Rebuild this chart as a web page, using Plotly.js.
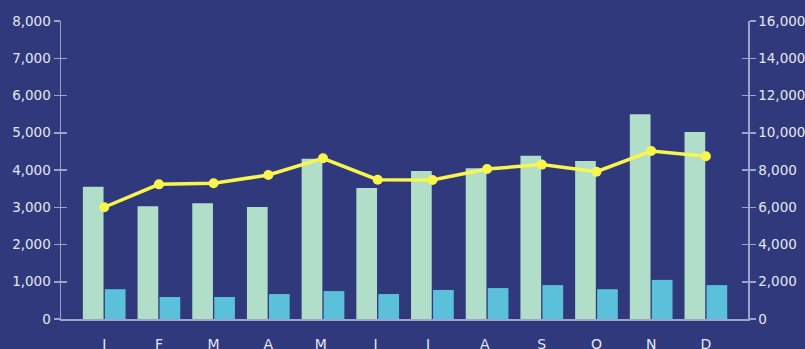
<!DOCTYPE html>
<html>
<head>
<meta charset="utf-8">
<script src="https://cdn.plot.ly/plotly-3.0.1.min.js"></script>
<style>
html,body{margin:0;padding:0;background:#2f397c;}
#chart{width:805px;height:349px;}
</style>
</head>
<body>
<div id="chart"></div>
<script>
const months = ["J","F","M","A","M ","J ","J  ","A ","S","O","N","D"];
const seriesA = [3550, 3030, 3110, 3010, 4300, 3520, 3970, 4050, 4380, 4240, 5500, 5020];
const seriesB = [800, 590, 590, 670, 750, 670, 780, 830, 910, 800, 1050, 910];
const lineC = [6000, 7230, 7290, 7730, 8630, 7480, 7460, 8050, 8290, 7910, 9020, 8740];
const leftTicks = [0,1000,2000,3000,4000,5000,6000,7000,8000];
const rightTicks = [0,2000,4000,6000,8000,10000,12000,14000,16000];

const bg = "#2f397c";
const axisCol = "#9ea3cc";
const textCol = "#e6e7f2";
const fnt = {family: "DejaVu Sans, sans-serif", size: 13.5, color: textCol};

const traces = [
  {type: "bar", x: months, y: seriesA, marker: {color: "#b1dec8"}, hoverinfo: "skip", showlegend: false},
  {type: "bar", x: months, y: seriesB, marker: {color: "#5bc0da"}, hoverinfo: "skip", showlegend: false},
  {type: "scatter", mode: "lines+markers", x: months, y: lineC, yaxis: "y2",
   line: {color: "#f8f64c", width: 3.5}, marker: {color: "#f8f64c", size: 10},
   hoverinfo: "skip", showlegend: false},
  {type: "scatter", mode: "markers", x: months, y: months.map(() => null), yaxis: "y3", showlegend: false, hoverinfo: "skip"},
  {type: "scatter", mode: "markers", x: months, y: months.map(() => null), yaxis: "y4", showlegend: false, hoverinfo: "skip"}
];

const tickStyle = {tickcolor: axisCol, ticklen: 6, tickwidth: 1.5};

const layout = {
  width: 805, height: 349,
  paper_bgcolor: bg, plot_bgcolor: bg,
  margin: {l: 61, r: 57, t: 21, b: 30},
  barmode: "group", bargap: 0.195, bargroupgap: 0.06,
  font: fnt,
  xaxis: {type: "category", range: [-0.79, 11.77], showline: true, linecolor: axisCol, linewidth: 1.5,
    ticks: "outside", ticklen: 12, tickcolor: bg, showgrid: false, zeroline: false,
    tickfont: {family: "DejaVu Sans, sans-serif", size: 14, color: textCol}, fixedrange: true},
  yaxis: Object.assign({range: [0, 8000], tickvals: leftTicks, tickformat: ",d", showgrid: false, zeroline: false,
    showline: true, linecolor: axisCol, linewidth: 1.5, ticks: "outside", tickfont: fnt}, tickStyle),
  yaxis2: Object.assign({overlaying: "y", side: "right", range: [0, 16000], tickvals: rightTicks, tickformat: ",d",
    showgrid: false, zeroline: false, showline: true, linecolor: axisCol, linewidth: 1.5, ticks: "outside", tickfont: fnt}, tickStyle),
  yaxis3: Object.assign({overlaying: "y", side: "left", range: [0, 8000], tickvals: leftTicks, showticklabels: false,
    showgrid: false, zeroline: false, showline: false, ticks: "inside"}, tickStyle),
  yaxis4: Object.assign({overlaying: "y", side: "right", range: [0, 16000], tickvals: rightTicks, showticklabels: false,
    showgrid: false, zeroline: false, showline: false, ticks: "inside"}, tickStyle)
};

Plotly.newPlot("chart", traces, layout, {staticPlot: true, displayModeBar: false});
</script>
</body>
</html>
